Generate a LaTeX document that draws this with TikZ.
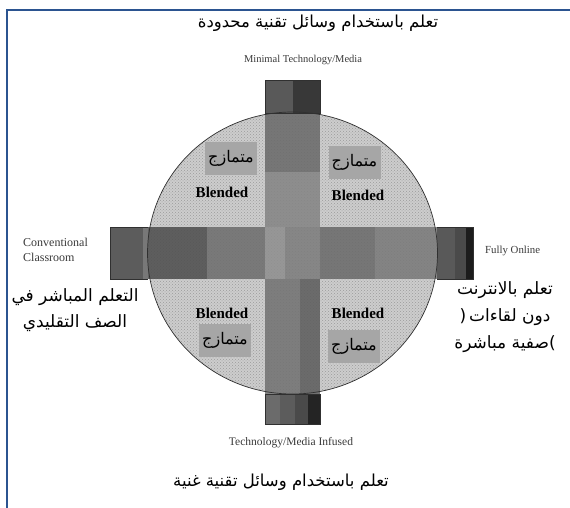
\documentclass[tikz,border=0pt]{standalone}
\usepackage{fontspec}
\setmainfont{Liberation Serif}
\newfontfamily\arabicfont[Script=Arabic]{DejaVu Sans}
\TeXXeTstate=1
\usetikzlibrary{patterns}
\definecolor{frameblue}{HTML}{2B5490}
\definecolor{lbl}{HTML}{3A3A3A}
\definecolor{disc}{HTML}{CDCDCD}
\definecolor{dots}{HTML}{9A9A9A}
\definecolor{tagbg}{HTML}{A6A6A6}
\definecolor{edge}{HTML}{303030}
\tikzset{
  artext/.style={inner sep=0pt, text=black},
  artitle/.style={artext, font={\arabicfont\fontsize{16.5}{18}\selectfont}},
  arside/.style={artext, align=center, font={\arabicfont\fontsize{17}{26}\selectfont}},
  enlabel/.style={inner sep=0pt, text=lbl, align=left},
  blend/.style={inner sep=0pt, text=black, font={\bfseries\fontsize{15}{16}\selectfont}},
  tag/.style={fill=tagbg, inner sep=0pt, minimum width=52pt, minimum height=33pt,
              font={\arabicfont\fontsize{16}{18}\selectfont}},
}
\begin{document}
\begin{tikzpicture}[x=1pt,y=-1pt]
\useasboundingbox (0,0) rectangle (570,508);
\fill[white] (0,0) rectangle (570,508);
% frame
\coordinate (fTL) at (7,10);
\coordinate (fTR) at (570,10);
\coordinate (fBL) at (7,508);
\draw[frameblue, line width=1.6pt] (fTR) -- (fTL) -- (fBL);

% disc
\coordinate (c) at (292.5,253);
\fill[disc] (c) ellipse [x radius=145, y radius=141];
\fill[pattern=crosshatch dots, pattern color=dots] (c) ellipse [x radius=145, y radius=141];

% vertical bar
\fill[black!65] (265,80) rectangle (293,113);
\fill[black!78] (293,80) rectangle (320,113);
\begin{scope}[opacity=0.88]
\fill[black!58] (265,113) rectangle (320,172);
\fill[black!48] (265,172) rectangle (320,227);
\fill[black!55] (265,279) rectangle (300,394);
\fill[black!63] (300,279) rectangle (320,394);
\end{scope}
\fill[black!58] (265,394) rectangle (280,424);
\fill[black!64] (280,394) rectangle (295,424);
\fill[black!71] (295,394) rectangle (308,424);
\fill[black!86] (308,394) rectangle (320,424);
\draw[edge, line width=0.6pt] (265,80) rectangle (320,113);
\draw[edge, line width=0.6pt] (265,394) rectangle (320,424);

% horizontal bar
\fill[black!64] (110,227) rectangle (143,279);
\fill[black!53] (143,227) rectangle (148,279);
\begin{scope}[opacity=0.88]
\fill[black!69] (148,227) rectangle (207,279);
\fill[black!57] (207,227) rectangle (265,279);
\fill[black!44] (265,227) rectangle (285,279);
\fill[black!51] (285,227) rectangle (320,279);
\fill[black!58] (320,227) rectangle (375,279);
\fill[black!52] (375,227) rectangle (437,279);
\end{scope}
\fill[black!65] (437,227) rectangle (455,279);
\fill[black!71] (455,227) rectangle (466,279);
\fill[black!89] (466,227) rectangle (473,279);
\draw[edge, line width=0.6pt] (148,227) -- (110,227) -- (110,279) -- (148,279);
\draw[edge, line width=0.6pt] (437,227) -- (473,227) -- (473,279) -- (437,279);

% disc outline
\draw[edge, line width=0.7pt] (c) ellipse [x radius=145, y radius=141];

% quadrant labels
\node[tag] (tTL) at (231,158.5) {\beginR متمازج\endR};
\node[blend] (bTL) at (222,192) {Blended};
\node[tag] (tTR) at (354.5,162.5) {\beginR متمازج\endR};
\node[blend] (bTR) at (358,195) {Blended};
\node[blend] (bBL) at (222,313) {Blended};
\node[tag] (tBL) at (225,340.5) {\beginR متمازج\endR};
\node[blend] (bBR) at (358,313) {Blended};
\node[tag] (tBR) at (354,346.5) {\beginR متمازج\endR};

% english labels
\node[enlabel, font={\fontsize{10.5}{12}\selectfont}] (nTop) at (303,60) {Minimal Technology/Media};
\node[enlabel, anchor=west, font={\fontsize{12}{15}\selectfont}] (nLeft) at (23,249.5) {Conventional\\Classroom};
\node[enlabel, anchor=west, font={\fontsize{10.8}{12}\selectfont}] (nRight) at (485,251) {Fully Online};
\node[enlabel, font={\fontsize{11.5}{13}\selectfont}] (nBot) at (291,443) {Technology/Media Infused};

% arabic labels
\node[artitle] (aTop) at (318,23) {\beginR تعلم باستخدام وسائل تقنية محدودة\endR};
\node[artitle] (aBot) at (281,482) {\beginR تعلم باستخدام وسائل تقنية غنية\endR};
\node[arside] (aLeft) at (75,310.5) {\beginR التعلم المباشر في\endR\\\beginR الصف التقليدي\endR};
\node[arside, font={\arabicfont\fontsize{17}{27}\selectfont}] (aRight) at (505,317) {\beginR تعلم بالانترنت\endR\\(\,\beginR دون لقاءات\endR\\\beginR صفية مباشرة\endR)};
\end{tikzpicture}
\end{document}
